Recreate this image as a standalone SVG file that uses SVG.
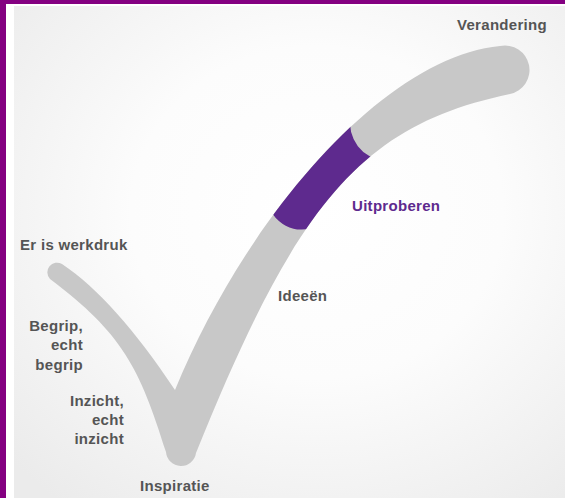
<svg xmlns="http://www.w3.org/2000/svg" width="565" height="498" viewBox="0 0 565 498">
  <style>
    .lbl { font-family: "Liberation Sans", Arial, sans-serif; font-weight: bold; font-size: 15px; letter-spacing: 0.3px; fill: #555555; }
    .end { text-anchor: end; }
    .purple { fill: #5e2a8e; }
  </style>
  <defs>
    <radialGradient id="bg" cx="0.55" cy="0.42" r="0.75">
      <stop offset="0" stop-color="#ffffff"/>
      <stop offset="0.45" stop-color="#fcfcfc"/>
      <stop offset="1" stop-color="#ebebeb"/>
    </radialGradient>
    <path id="checkShape" d="M 62 264 C 97.7 288 135 329.7 175 390 C 247 215 385 57 500 46 A 24.5 24.5 0 0 1 510 94 C 362 125 297 202 196 453 A 15.1 15.1 0 0 1 166 452 C 140 368 122 333 50 279 A 9.7 9.7 0 0 1 62 264 Z"/>
    <clipPath id="checkClip">
      <use href="#checkShape"/>
    </clipPath>
  </defs>

  <g id="frame">
    <rect x="0" y="0" width="565" height="498" fill="#ffffff"/>
    <rect x="14" y="6" width="551" height="492" fill="url(#bg)"/>
    <rect x="0" y="0" width="6" height="498" fill="#840081"/>
    <rect x="0" y="0" width="565" height="4" fill="#840081"/>
  </g>

  <g id="checkmark">
    <use href="#checkShape" fill="#c8c8c8"/>
    <g id="uitproberen-segment" clip-path="url(#checkClip)">
      <path class="purple" d="M 268 199.4 A 33 33 0 0 0 317.5 225 L 400 175 L 384.7 160.9 A 38 38 0 0 1 350.6 116.4 L 320 140 L 260 190 Z"/>
    </g>
  </g>

  <g id="label-verandering"><text class="lbl end" x="547" y="30">Verandering</text></g>
  <g id="label-uitproberen"><text class="lbl" x="352" y="211" fill="#5e2a8e" style="fill:#5e2a8e">Uitproberen</text></g>
  <g id="label-ideeen"><text class="lbl" x="278" y="301">Ideeën</text></g>
  <g id="label-werkdruk"><text class="lbl" x="20" y="250">Er is werkdruk</text></g>
  <g id="label-begrip">
    <text class="lbl end" x="83" y="331">Begrip,</text>
    <text class="lbl end" x="83" y="350">echt</text>
    <text class="lbl end" x="83" y="370">begrip</text>
  </g>
  <g id="label-inzicht">
    <text class="lbl end" x="124" y="406">Inzicht,</text>
    <text class="lbl end" x="124" y="425">echt</text>
    <text class="lbl end" x="124" y="444">inzicht</text>
  </g>
  <g id="label-inspiratie"><text class="lbl" x="140" y="491">Inspiratie</text></g>
</svg>
